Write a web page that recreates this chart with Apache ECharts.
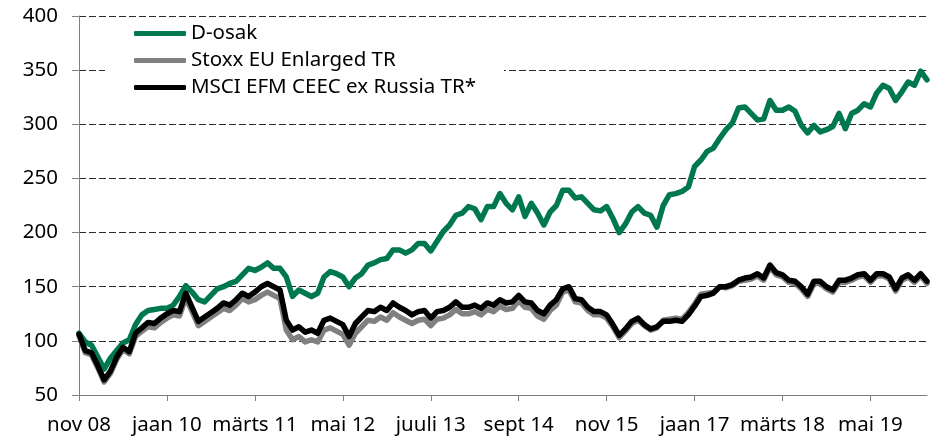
<!DOCTYPE html>
<html>
<head>
<meta charset="utf-8">
<script src="https://cdn.jsdelivr.net/npm/echarts@6/dist/echarts.min.js"></script>
<style>
html,body{margin:0;padding:0;background:#fff;}
#chart{width:943px;height:439px;}
</style>
</head>
<body>
<div id="chart"></div>
<script>
// Monthly observations, Nov 2008 .. Feb 2020
const startYear = 2008, startMonth = 11, monthCount = 136;
const tickLabels = ['nov 08','jaan 10','märts 11','mai 12','juuli 13','sept 14','nov 15','jaan 17','märts 18','mai 19'];
const tickEvery = 14;
const seriesNames = ['D-osak','Stoxx EU Enlarged TR','MSCI EFM CEEC ex Russia TR*'];

const dOsak = [107,99,96,85,74,84,91,98,101,115,124,128,129,130,130,133,141,151,145,138,
  136,142,148,150,153,155,161,167,165,168,172,167,167,159,141,147,144,141,144,159,
  164,162,159,150,158,162,170,172,175,176,184,184,181,184,190,190,183,192,201,207,
  216,218,224,222,212,224,224,236,227,221,233,215,227,218,207,219,225,239,239,232,
  233,227,221,220,224,213,200,208,219,224,218,216,205,225,235,236,238,242,261,267,
  275,278,287,295,301,315,316,310,304,305,322,313,313,316,312,299,292,299,293,295,
  298,310,296,310,313,319,316,329,336,333,322,330,339,336,349,341];

const stoxx = [105,89,87,75,62,70,83,92,88,104,109,113,112,117,121,124,123,140,127,114,
  118,122,126,130,128,133,139,136,138,142,145,142,139,110,101,104,99,101,99,110,
  112,109,106,96,107,113,119,118,122,119,126,122,119,116,119,120,114,120,121,124,
  129,125,125,127,124,129,127,132,129,130,137,131,130,123,120,128,133,145,147,136,
  135,128,124,124,121,113,103,109,116,119,114,110,112,119,120,121,120,126,134,143,
  144,145,150,149,151,155,156,157,160,156,168,161,159,154,153,148,141,153,153,148,
  145,154,154,156,159,160,154,160,160,157,146,156,159,154,160,153];

const msci = [106,91,89,77,64,72,85,94,90,107,112,117,116,121,125,128,127,144,131,118,
  122,126,130,135,133,138,144,141,145,150,153,150,147,119,110,113,108,110,107,119,
  121,118,115,104,116,122,128,127,131,128,135,131,128,124,127,128,121,127,128,131,
  136,131,131,133,130,135,133,138,135,136,142,136,135,128,125,133,138,148,150,139,
  138,131,127,127,124,115,105,111,118,121,115,111,113,118,118,119,118,124,132,141,
  142,144,150,150,152,156,158,159,162,158,170,163,161,156,155,150,143,155,155,150,
  147,156,156,158,161,162,156,162,162,159,148,158,161,156,162,155];

const colors = ['#00784f','#808080','#000000'];

const categories = [];
for (let k = 0; k < monthCount; k++) {
  const m = startMonth - 1 + k;
  const y = startYear + Math.floor(m / 12);
  categories.push(y + '-' + String(m % 12 + 1).padStart(2, '0'));
}

const fontFamily = '"Noto Sans", "DejaVu Sans", sans-serif';
const chart = echarts.init(document.getElementById('chart'), null, {renderer: 'canvas'});
const seriesData = [dOsak, stoxx, msci];

chart.setOption({
  animation: false,
  backgroundColor: '#ffffff',
  grid: {left: 79, right: 16, top: 16, bottom: 44, containLabel: false},
  legend: {
    show: true,
    orient: 'vertical',
    left: 105,
    top: 20,
    padding: [0, 28, 4, 29],
    itemGap: 0,
    itemWidth: 52,
    itemHeight: 5,
    icon: 'roundRect',
    backgroundColor: '#ffffff',
    textStyle: {fontFamily: fontFamily, fontSize: 20.5, color: '#000', lineHeight: 27},
    data: seriesNames
  },
  xAxis: {
    type: 'category',
    data: categories,
    boundaryGap: false,
    axisLine: {show: true, lineStyle: {color: '#7f7f7f', width: 1}},
    axisTick: {show: true, length: 6, interval: tickEvery - 1, lineStyle: {color: '#7f7f7f'}},
    axisLabel: {
      interval: tickEvery - 1,
      margin: 20,
      fontFamily: fontFamily, fontSize: 20.5, color: '#000',
      formatter: function (v, idx) { return tickLabels[Math.round(idx / tickEvery)] || ''; }
    },
    splitLine: {show: false}
  },
  yAxis: {
    type: 'value',
    min: 50, max: 400, interval: 50,
    axisLine: {show: true, lineStyle: {color: '#7f7f7f', width: 1}},
    axisTick: {show: true, length: 7, lineStyle: {color: '#7f7f7f'}},
    axisLabel: {margin: 21, fontFamily: fontFamily, fontSize: 20.5, color: '#000'},
    splitLine: {show: true, lineStyle: {color: '#2a2a2a', width: 1, type: [7, 3]}}
  },
  series: seriesNames.map(function (name, s) {
    return {
      name: name,
      type: 'line',
      data: seriesData[s],
      symbol: 'none',
      smooth: false,
      color: colors[s],
      lineStyle: {width: 5.5, color: colors[s], cap: 'round', join: 'round'},
      z: 2 + s
    };
  })
});
</script>
</body>
</html>
